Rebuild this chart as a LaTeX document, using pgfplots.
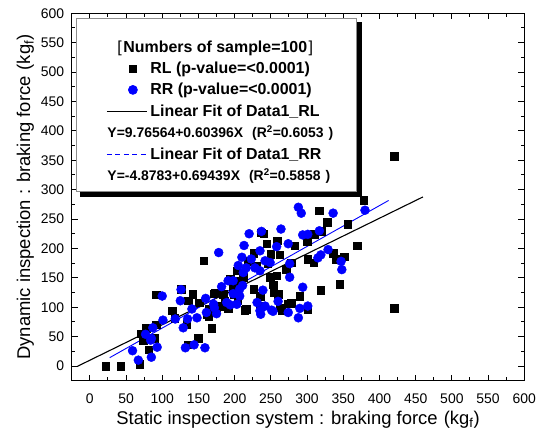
\documentclass[border=0pt]{standalone}
\usepackage{pgfplots}
\pgfplotsset{compat=1.18}
\usepackage{fontspec}
\setmainfont{Liberation Sans}
\usetikzlibrary{calc}

\pgfplotsset{
  markimg/.style={legend image code/.code={\path (-7bp,0bp) (40bp,0bp); \draw[##1] plot coordinates {(26bp,0bp)};}},
  lineimg/.style={legend image code/.code={\path (-7bp,0bp); \draw[##1] (0bp,0bp) -- (40bp,0bp);}},
  bluedashimg/.style={legend image code/.code={\path (-7bp,0bp); \draw[draw=blue, line width=1.1bp, dash pattern=on 5bp off 3.5bp] (0bp,0bp) -- (40bp,0bp);}},
}

\pgfplotstableread{
x y
22 0
43 0
69 3
92 121
157 179
126 131
142 122
136 111
151 108
171 123
114 94
164 85
117 81
78 64
92 70
71 55
89 47
74 44
81 28
134 71
168 64
150 47
135 36
165 97
237 227
244 208
259 213
226 192
262 189
203 162
246 175
271 165
258 154
194 148
212 151
198 133
226 131
253 138
184 122
180 102
204 112
216 97
235 102
254 125
262 99
278 107
162 88
175 99
191 98
420 357
378 282
317 264
328 245
356 241
320 229
300 212
310 224
283 205
369 205
301 182
309 176
336 192
340 182
351 186
278 176
345 139
319 129
290 119
274 106
301 97
420 98
260 122
214 95
265 95
249 151
199 122
201 145
235 119
240 225
173 125
230 170
218 178
250 190
208 140
186 110
}\RLdata

\pgfplotstableread{
x y
100 119
126 130
125 111
160 115
141 97
148 82
135 80
129 65
118 80
101 78
87 65
77 54
85 47
93 32
85 15
59 26
67 10
132 31
144 36
159 31
172 99
220 225
237 229
264 233
213 205
178 193
235 196
258 203
274 208
210 185
223 182
242 179
249 176
205 171
216 167
228 167
212 159
235 162
276 174
276 151
198 145
211 137
182 135
239 129
198 123
207 119
171 105
189 108
203 105
231 108
260 110
251 95
242 102
161 91
175 89
194 104
235 94
274 91
288 270
292 260
336 260
380 265
317 230
294 223
301 224
329 198
319 189
315 184
347 178
348 164
294 134
290 98
301 102
288 82
236 88
253 93
191 145
207 131
84 44
}\RRdata

\begin{document}
\begin{tikzpicture}
\begin{axis}[
  at={(0,0)}, anchor=south west,
  scale only axis, width=452.6bp, height=367.4bp,
  xmin=-25, xmax=600, ymin=-25, ymax=600,
  xtick={0,50,...,600}, ytick={0,50,...,600},
  minor tick num=1,
  tick align=inside,
  major tick length=6bp, minor tick length=3.5bp,
  every tick/.style={black, line width=1bp},
  axis line style={line width=1.2bp},
  /pgf/number format/assume math mode=true,
  tick label style={font=\fontsize{14}{16}\selectfont},
  xticklabel style={yshift=-10bp},
  yticklabel style={xshift=-4bp},
  xlabel={Static inspection system : braking force\,\,(kg\textsubscript{f})},
  ylabel={Dynamic inspection : braking force\,\,(kg\textsubscript{f})},
  label style={font=\fontsize{18.5}{20}\selectfont},
  legend cell align=left,
  legend style={
    name=LEG,
    at={(0.0095,0.987)}, anchor=north west,
    draw=black!45, line width=0.7bp, fill=white,
    font=\bfseries\fontsize{16}{18}\selectfont,
    inner xsep=23bp, inner ysep=9.5bp,
    row sep=8.2bp,
    nodes={inner xsep=0bp, inner ysep=0bp},
  },
]
\addlegendimage{empty legend}
\addlegendentry{\rule[-3bp]{0pt}{27.5bp}\hspace*{-30bp}{\mdseries[}\hspace{1.5bp}Numbers of sample=100\hspace{1.5bp}{\mdseries]}}

\addplot[only marks, mark=square*, mark size=3.75bp, black, markimg]
  table[x=x,y=y] {\RLdata};
\addlegendentry{\rule[-3bp]{0pt}{13bp}\hspace*{3bp}RL (p-value=<0.0001)}

\addplot[only marks, mark=*, mark size=4.5bp, blue, markimg]
  table[x=x,y=y] {\RRdata};
\addlegendentry{\rule[-3bp]{0pt}{13bp}\hspace*{3bp}RR (p-value=<0.0001)}

\addplot[black, line width=1.1bp, no marks, lineimg]
  coordinates {(-17,-0.5) (460,287.6)};
\addlegendentry{\rule[-3bp]{0pt}{13bp}\hspace*{3bp}Linear Fit of Data1\_RL}

\addlegendimage{empty legend}
\addlegendentry{\rule[-3bp]{0pt}{13bp}\hspace*{-40bp}{\fontsize{14}{16}\selectfont Y=9.76564+0.60396X\hspace{9bp}(R\textsuperscript{2}=0.6053\hspace{5bp})}}

\addplot[blue, line width=0.9bp, no marks, forget plot]
  coordinates {(27.5,14.2) (412.6,281.6)};
\addlegendimage{bluedashimg}
\addlegendentry{\rule[-3bp]{0pt}{13bp}\hspace*{3bp}Linear Fit of Data1\_RR}

\addlegendimage{empty legend}
\addlegendentry{\rule[-3bp]{0pt}{13bp}\hspace*{-40bp}{\fontsize{14}{16}\selectfont Y=-4.8783+0.69439X\hspace{9bp}(R\textsuperscript{2}=0.5858\hspace{5bp})}}
\end{axis}
\fill[black] ($(LEG.north east)+(0bp,-4bp)$) rectangle ($(LEG.south east)+(5bp,-5bp)$);
\fill[black] ($(LEG.south west)+(4bp,0bp)$) rectangle ($(LEG.south east)+(5bp,-5bp)$);
\pgfresetboundingbox
\path (-71.7bp,-49.3bp) rectangle (474.3bp,380.7bp);
\end{tikzpicture}
\end{document}
